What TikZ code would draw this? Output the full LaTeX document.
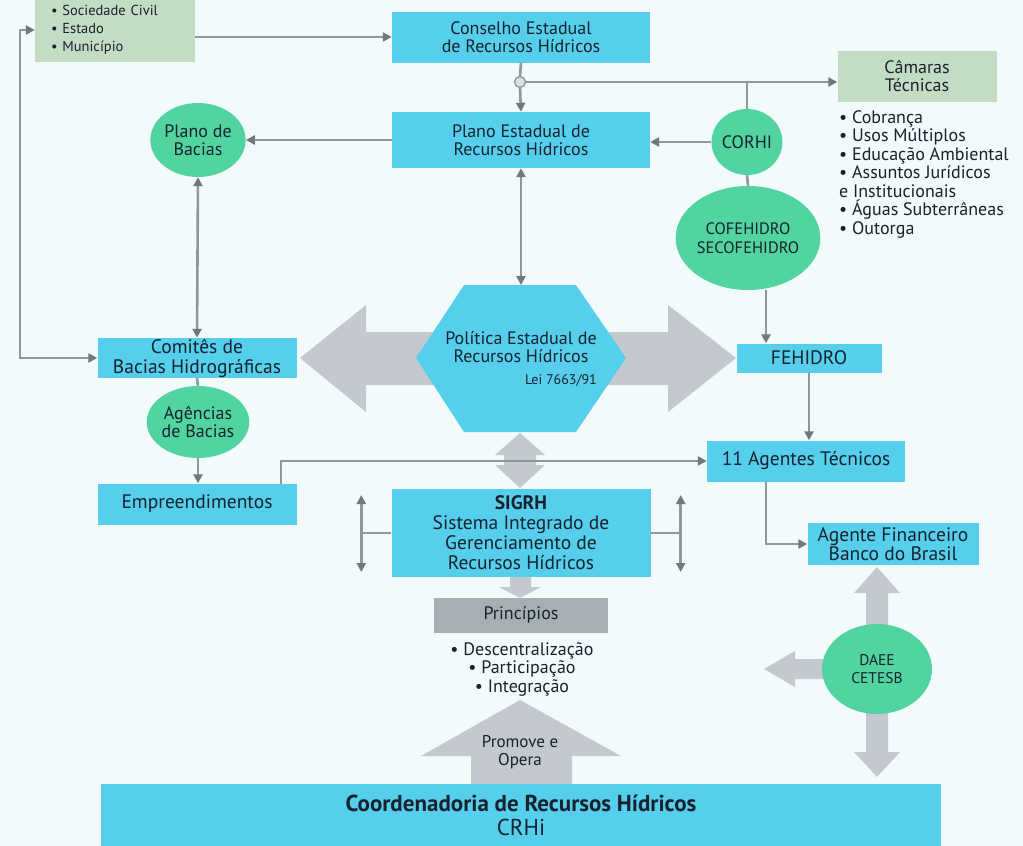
\documentclass[tikz,border=0pt]{standalone}
\usepackage{fontspec}
\setmainfont{PT Sans}
\usetikzlibrary{arrows.meta,shapes.geometric}
\definecolor{bgc}{HTML}{F2FAFB}
\definecolor{boxblue}{HTML}{55CFEC}
\definecolor{bubgreen}{HTML}{52D4A0}
\definecolor{boxgreen}{HTML}{C4DCC4}
\definecolor{arrowgrey}{HTML}{C4C8CF}
\definecolor{linegrey}{HTML}{8C979E}
\definecolor{tipgrey}{HTML}{6E787E}
\definecolor{prigrey}{HTML}{A5AFB4}
\definecolor{textc}{HTML}{17222E}
\newcommand{\bodyfont}{\fontsize{18}{18.5}\selectfont}
\newcommand{\bigfont}{\fontsize{19.5}{20}\selectfont}
\tikzset{
  box/.style={rectangle, fill=boxblue, text=textc, align=center, inner sep=0pt, font=\bodyfont},
  greenbox/.style={box, fill=boxgreen},
  bubble/.style={ellipse, fill=bubgreen, text=textc, align=center, inner sep=0pt, font=\bodyfont},
  plain/.style={draw=linegrey, line width=2.6pt},
  conn/.style={plain, -{Triangle[length=9pt,width=9pt,color=tipgrey]}},
  both/.style={plain, {Triangle[length=9pt,width=9pt,color=tipgrey]}-{Triangle[length=9pt,width=9pt,color=tipgrey]}},
  blockarrow/.style={fill=arrowgrey}
}

\begin{document}
\begin{tikzpicture}[x=1pt,y=-1pt]
                \useasboundingbox (0,0) rectangle (1023,846);
                \fill[bgc] (0,0) rectangle (1023,846);
                % block arrows
                \fill[blockarrow] (300,358) -- (366,305) -- (366,332) -- (668,332) -- (668,305) -- (736,358) -- (668,412) -- (668,385) -- (366,385) -- (366,412) -- cycle;
                \fill[blockarrow] (520,433) -- (545,455) -- (536,455) -- (536,465) -- (545,465) -- (520,488) -- (495,465) -- (504,465) -- (504,455) -- (495,455) -- cycle;
                \fill[blockarrow] (510,576) -- (531,576) -- (531,587) -- (541,587) -- (520,598) -- (499,587) -- (510,587) -- cycle;
                \fill[blockarrow] (520,700) -- (621,756) -- (572,756) -- (572,784) -- (471,784) -- (471,756) -- (421,756) -- cycle;
                \fill[blockarrow] (866,669) -- (866,593) -- (854,593) -- (877,567) -- (900,593) -- (888,593) -- (888,669) -- cycle;
                \fill[blockarrow] (866,669) -- (866,752) -- (854,752) -- (877,777) -- (900,752) -- (888,752) -- (888,669) -- cycle;
                \fill[blockarrow] (877,659) -- (795,659) -- (795,651) -- (764,669) -- (795,687) -- (795,679) -- (877,679) -- cycle;
                \fill[boxblue] (416,358) -- (464,285) -- (576,285) -- (626,358) -- (576,432) -- (464,432) -- cycle;
                \node[font=\fontsize{17}{18}\selectfont, text=textc, align=center] (prom) at (520,752) {Promove e\\Opera};
                % nodes
                \node[greenbox, minimum width=160pt, minimum height=64pt, align=left, text width=128pt, inner xsep=16pt, font=\fontsize{14.5}{18}\selectfont] (soc) at (115,30) {• Sociedade Civil\\• Estado\\• Município};
                \node[box, minimum width=258pt, minimum height=51pt] (cons) at (521,37) {Conselho Estadual\\de Recursos Hídricos};
                \node[box, minimum width=258pt, minimum height=56pt] (pla) at (521,140) {Plano Estadual de\\Recursos Hídricos};
                \node[greenbox, minimum width=159pt, minimum height=51pt] (cam) at (917,76) {Câmaras\\Técnicas};
                \node[anchor=west, align=left, text=textc, font=\bodyfont, inner sep=0pt] (camlist) at (839,174) {• Cobrança\\• Usos Múltiplos\\• Educação Ambiental\\• Assuntos Jurídicos\\e Institucionais\\• Águas Subterrâneas\\• Outorga};
                \node[circle, draw=linegrey, fill=arrowgrey!60, line width=1.4pt, minimum size=11pt, inner sep=0pt] (jun) at (520,82) {};
                \node[bubble, minimum width=66pt, minimum height=66pt, font=\fontsize{18}{18}\selectfont] (corhi) at (747,142) {CORHI};
                \node[bubble, minimum width=124pt, minimum height=104pt, font=\fontsize{16.5}{18.5}\selectfont] (cofe) at (748,238) {COFEHIDRO\\SECOFEHIDRO};
                \node[bubble, minimum width=93pt, minimum height=74pt] (pbac) at (198,140) {Plano de\\Bacias};
                \node[box, minimum width=199pt, minimum height=40pt, font=\bigfont] (com) at (197,358) {Comitês de\\Bacias Hidrográficas};
                \node[bubble, minimum width=92pt, minimum height=72pt] (age) at (198,422) {Agências\\de Bacias};
                \node[box, minimum width=199pt, minimum height=41pt, font=\bigfont] (emp) at (197,504) {Empreendimentos};
                \node[text=textc, font=\bodyfont, align=center, inner sep=0pt] (pol) at (521,347) {Política Estadual de\\Recursos Hídricos};
                \node[text=textc, font=\fontsize{14}{16}\selectfont, anchor=east, inner sep=0pt] (lei) at (597,380) {Lei 7663/91};
                \node[box, minimum width=145pt, minimum height=29pt, font=\bigfont] (feh) at (809,358) {FEHIDRO};
                \node[box, minimum width=198pt, minimum height=41pt, font=\bigfont] (ag11) at (806,461) {11 Agentes Técnicos};
                \node[box, minimum width=171pt, minimum height=42pt, font=\fontsize{19.5}{17}\selectfont] (agf) at (893,544) {Agente Financeiro\\Banco do Brasil};
                \node[bubble, minimum width=110pt, minimum height=90pt, font=\fontsize{15.5}{18}\selectfont] (daee) at (877,669) {DAEE\\CETESB};
                \node[box, minimum width=259pt, minimum height=88pt, font=\bigfont] (sig) at (521,533) {\textbf{SIGRH}\\Sistema Integrado de\\Gerenciamento de\\Recursos Hídricos};
                \node[box, fill=prigrey, minimum width=174pt, minimum height=35pt] (pri) at (521,615) {Princípios};
                \node[text=textc, font=\bodyfont, align=center, inner sep=0pt] (prilist) at (522,669) {• Descentralização\\• Participação\\• Integração};
                \node[box, minimum width=840pt, minimum height=63pt, font=\fontsize{23}{24}\selectfont] (crhi) at (521,815) {\textbf{Coordenadoria de Recursos Hídricos}\\CRHi};
                % connectors
                \coordinate (lp) at (20,30);
                \coordinate (poltop) at (520,285);
                \coordinate (e1) at (281,484);
                \draw[both] (soc.west) -- (lp) |- (com.west);
                \draw[conn] (cons.west -| soc.east) -- (cons.west);
                \draw[plain] (cons.south) -- (jun.north);
                \draw[conn] (jun.south) -- (pla.north);
                \draw[conn] (jun.east) -- (jun -| cam.west);
                \draw[plain] (corhi.north) -- (corhi.north |- jun);
                \draw[plain] (corhi.south) -- (cofe.north);
                \draw[conn] (corhi.west) -- (corhi.west -| pla.east);
                \draw[conn] (pla.west) -- (pla.west -| pbac.east);
                \draw[both] (pbac.south) -- (com.north);
                \draw[both] (pla.south) -- (pla.south |- poltop);
                \draw[plain] (com.south) -- (age.north);
                \draw[conn] (age.south) -- (emp.north -| age.south);
                \draw[conn] (e1) |- (ag11.west);
                \draw[conn] ([xshift=18pt]cofe.south) -- ([xshift=18pt]cofe.south |- feh.north);
                \draw[conn] (feh.south) -- (feh.south |- ag11.north);
                \draw[conn] ([xshift=-40pt]ag11.south) |- (agf.west);
                \draw[plain] (sig.west) -- ++(-30,0) coordinate (sl);
                \draw[both] (sl) ++(0,-38) -- ++(0,77);
                \draw[plain] (sig.east) -- ++(30,0) coordinate (sr);
                \draw[both] (sr) ++(0,-38) -- ++(0,77);
\end{tikzpicture}
\end{document}
